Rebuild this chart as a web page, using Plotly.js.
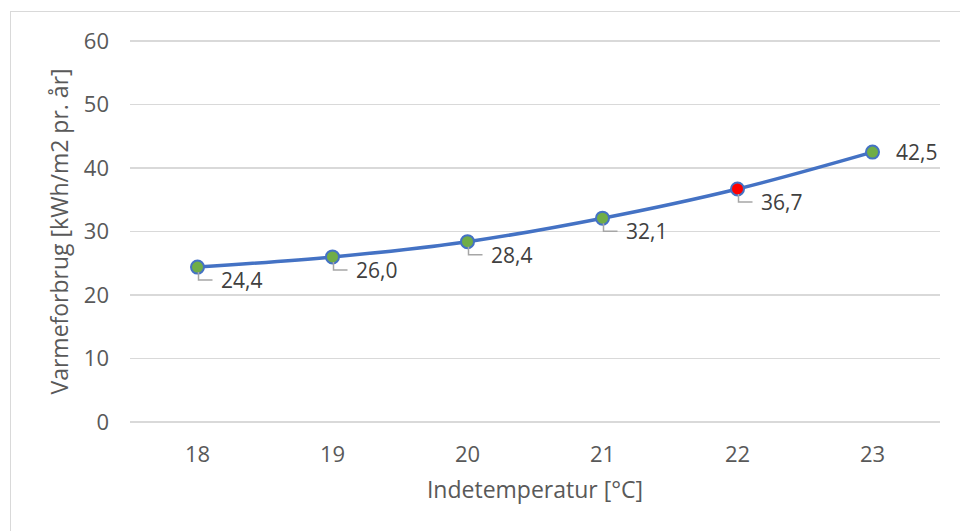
<!DOCTYPE html>
<html>
<head>
<meta charset="utf-8">
<script src="https://cdn.plot.ly/plotly-3.0.1.min.js"></script>
<style>
html,body{margin:0;padding:0;overflow:hidden;background:#fff;}
#chart{position:absolute;left:0;top:0;width:960px;height:531px;}
#frame{position:absolute;left:10px;top:11px;width:1000px;height:600px;border:1px solid #d9d9d9;pointer-events:none;}
</style>
</head>
<body>
<div id="chart"></div>
<div id="frame"></div>
<script>
const temperatures = [18, 19, 20, 21, 22, 23];
const heatUse = [24.4, 26.0, 28.4, 32.1, 36.7, 42.5];
const labels = ["24,4", "26,0", "28,4", "32,1", "36,7", "42,5"];
const markerFills = ["#70AD47", "#70AD47", "#70AD47", "#70AD47", "#FF0000", "#70AD47"];
const yTicks = [0, 10, 20, 30, 40, 50, 60];

const FONT = "Open Sans, Liberation Sans, sans-serif";

const trace = {
  x: temperatures,
  y: heatUse,
  type: "scatter",
  mode: "lines+markers",
  line: {shape: "spline", smoothing: 1, color: "#4472C4", width: 3.5},
  marker: {size: 13, color: markerFills, line: {color: "#4472C4", width: 2}},
  hoverinfo: "none",
  showlegend: false
};

const annotations = [];
const shapes = [];
temperatures.forEach((t, i) => {
  const last = i === temperatures.length - 1;
  annotations.push({
    x: t, y: heatUse[i], xref: "x", yref: "y",
    text: labels[i], showarrow: false,
    xanchor: "left", yanchor: "middle",
    xshift: 21, yshift: last ? 0 : -13,
    font: {family: FONT, size: 21, color: "#404040"}
  });
  if (!last) {
    shapes.push({
      type: "path", xref: "x", yref: "y",
      xsizemode: "pixel", ysizemode: "pixel",
      xanchor: t, yanchor: heatUse[i],
      path: "M1,-5 L1,-13 L15,-13",
      line: {color: "#A6A6A6", width: 1.5}
    });
  }
});

const layout = {
  width: 960, height: 531,
  margin: {l: 130, r: 20, t: 39, b: 107},
  paper_bgcolor: "rgba(0,0,0,0)",
  plot_bgcolor: "#ffffff",
  font: {family: FONT, color: "#595959", size: 22},
  xaxis: {
    range: [17.5, 23.5],
    tickvals: temperatures,
    ticktext: temperatures.map(String),
    showgrid: false, zeroline: false,
    showline: false, ticks: "",
    ticklabelstandoff: 15,
    tickfont: {family: FONT, size: 22, color: "#595959"},
    title: {text: "Indetemperatur [°C]", font: {family: FONT, size: 23, color: "#595959"}, standoff: 14}
  },
  yaxis: {
    range: [-0.3, 60.3],
    tickvals: yTicks,
    showgrid: true, gridcolor: "#d9d9d9", gridwidth: 1.3,
    zeroline: false, showline: false, ticks: "",
    ticklabelstandoff: 20,
    tickfont: {family: FONT, size: 22, color: "#595959"},
    title: {text: "Varmeforbrug [kWh/m2 pr. år]", font: {family: FONT, size: 23, color: "#595959"}, standoff: 8}
  },
  annotations: annotations,
  shapes: shapes
};

Plotly.newPlot("chart", [trace], layout, {staticPlot: true, displayModeBar: false});
</script>
</body>
</html>
